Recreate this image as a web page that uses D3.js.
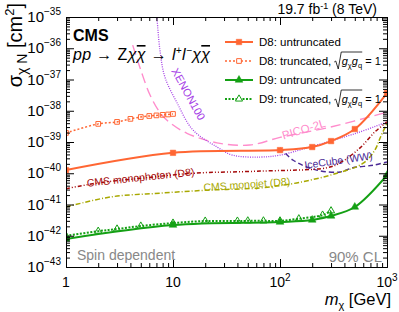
<!DOCTYPE html>
<html>
<head>
<meta charset="utf-8">
<script src="https://cdn.jsdelivr.net/npm/d3@7"></script>
<style>
body { margin: 0; background: #fff; }
text { font-family: "Liberation Sans", Arial, sans-serif; }
</style>
</head>
<body>
<div id="chart"></div>
<script>
// CMS curves (mass in GeV, cross section in cm^2)
var massD8 = [1, 10, 100, 200, 300, 500, 1000];
var sigmaD8 = [1.26e-40, 4.5e-40, 5.5e-40, 6.9e-40, 1.07e-39, 2.6e-39, 3.7e-38];

var massD8trunc = [1, 2, 3, 4, 5, 6, 7, 8, 9, 10];
var sigmaD8trunc = [1.95e-39, 3.8e-39, 4.4e-39, 5.5e-39, 6.3e-39, 6.8e-39, 7.1e-39, 7.4e-39, 7.6e-39, 7.9e-39];

var massD9 = [1, 10, 100, 200, 300, 500, 1000];
var sigmaD9 = [7.9e-43, 2.2e-42, 2.75e-42, 3.2e-42, 4.3e-42, 8.3e-42, 8.7e-41];

var massD9trunc = [1, 2, 3, 5, 10, 20, 40, 50, 70, 100, 150, 250, 300];
var sigmaD9trunc = [1.0e-42, 1.4e-42, 1.65e-42, 2.05e-42, 2.55e-42, 2.95e-42, 2.95e-42, 3.0e-42, 3.0e-42, 3.0e-42, 3.5e-42, 4.6e-42, 6.3e-42];

// other limits
var massXenon = [6.95, 7.1, 7.55, 8.4, 10.9, 15.4, 25.8, 36, 65, 100, 190, 525, 1000];
var sigmaXenon = [1.5e-35, 8e-36, 8.7e-37, 1.2e-37, 1.8e-38, 2.4e-39, 6.9e-40, 3.8e-40, 3.3e-40, 3.8e-40, 6.9e-40, 1.95e-39, 4.4e-39];

var massPico = [4.2, 5.0, 6.1, 7.6, 9.4, 13.5, 25.8, 52, 100, 295, 1000];
var sigmaPico = [1.26e-36, 2e-37, 3.2e-38, 8.5e-39, 4.1e-39, 1.9e-39, 9.4e-40, 8e-40, 1.4e-39, 3e-39, 9e-39];

var massIce = [100, 133, 220, 365, 480, 740, 1000];
var sigmaIce = [6.5e-40, 2.6e-40, 1.26e-40, 1.1e-40, 1.5e-40, 1.8e-40, 2.3e-40];

var massMonophoton = [1, 2, 5.2, 15.4, 65, 275, 360, 560, 770, 1000];
var sigmaMonophoton = [3.2e-41, 4.9e-41, 7e-41, 1.0e-40, 1.17e-40, 1.5e-40, 2.1e-40, 6.5e-40, 2.1e-39, 4.4e-39];

var massMonojet = [1, 2.6, 7.5, 22, 65, 143, 340, 600, 770, 870, 1000];
var sigmaMonojet = [8.3e-42, 1.74e-41, 2.3e-41, 2.9e-41, 3.4e-41, 4.9e-41, 1.0e-40, 2.1e-40, 5.5e-40, 1.45e-39, 3.9e-39];

// tick labels
var xTicks = [1, 10, 100, 1000];
var xTickLabels = [["1", ""], ["10", ""], ["10", "2"], ["10", "3"]];
var yExponents = [-43, -42, -41, -40, -39, -38, -37, -36, -35];

var legendLabels = ["D8: untruncated", "D8: truncated,", "D9: untruncated", "D9: truncated,"];

// Define SVG area and plot frame
var svgWidth = 399;
var svgHeight = 312;
var frame = { left: 66, right: 387, top: 17, bottom: 267 };

var svg = d3.select("#chart")
  .append("svg")
  .attr("width", svgWidth)
  .attr("height", svgHeight);

var xScale = d3.scaleLog().domain([1, 1000]).range([frame.left, frame.right]);
var yScale = d3.scaleLog().domain([1e-43, 1e-35]).range([frame.bottom, frame.top]);

// colours
var cD8 = "#ff6633";
var cD9 = "#14a014";

svg.append("clipPath").attr("id", "clip")
  .append("rect")
  .attr("x", frame.left).attr("y", frame.top)
  .attr("width", frame.right - frame.left)
  .attr("height", frame.bottom - frame.top);

var plotArea = svg.append("g").attr("clip-path", "url(#clip)");

var line = d3.line()
  .x(d => xScale(d[0]))
  .y(d => yScale(d[1]))
  .curve(d3.curveCatmullRom.alpha(0.5));

function drawCurve(mass, sigma, color, width, dash) {
  var pts = mass.map((m, i) => [m, sigma[i]]);
  plotArea.append("path")
    .datum(pts)
    .attr("d", line)
    .attr("fill", "none")
    .attr("stroke", color)
    .attr("stroke-width", width)
    .attr("stroke-dasharray", dash);
}

function drawMarkers(mass, sigma, type, color, filled) {
  var sym = type == "square" ? d3.symbol(d3.symbolSquare, filled ? 30 : 22)
                             : d3.symbol(d3.symbolTriangle, filled ? 26 : 22);
  plotArea.selectAll(null)
    .data(mass.map((m, i) => [m, sigma[i]]))
    .enter()
    .append("path")
    .attr("d", sym)
    .attr("transform", d => `translate(${xScale(d[0])},${yScale(d[1])})`)
    .attr("fill", filled ? color : "none")
    .attr("stroke", color)
    .attr("stroke-width", filled ? 0.5 : 1);
}

// other experiments
drawCurve(massPico, sigmaPico, "#ff8ccc", 1.4, "10,5");
drawCurve(massXenon, sigmaXenon, "#a640e6", 1.3, "1,1.3");
drawCurve(massIce, sigmaIce, "#4b2a96", 1.4, "5,3");
drawCurve(massMonophoton, sigmaMonophoton, "#a50a0a", 1.5, "4,2,1,2,1,2");
drawCurve(massMonojet, sigmaMonojet, "#a8a800", 1.5, "5,2,1,2");

// CMS curves
drawCurve(massD8trunc, sigmaD8trunc, cD8, 1.5, "2,2");
drawMarkers(massD8trunc, sigmaD8trunc, "square", cD8, false);
drawCurve(massD8, sigmaD8, cD8, 2, null);
drawMarkers(massD8, sigmaD8, "square", cD8, true);
drawCurve(massD9trunc, sigmaD9trunc, cD9, 2, "2,1.5");
drawMarkers(massD9trunc, sigmaD9trunc, "triangle", cD9, false);
drawCurve(massD9, sigmaD9, cD9, 2, null);
drawMarkers(massD9, sigmaD9, "triangle", cD9, true);

// curve labels
function curveLabel(x, y, angle, txt, color, size) {
  svg.append("text")
    .attr("transform", `translate(${x},${y}) rotate(${angle})`)
    .attr("text-anchor", "middle")
    .attr("fill", color)
    .style("font-size", size + "px")
    .text(txt);
}
curveLabel(185, 96, 61, "XENON100", "#a640e6", 11);
curveLabel(305, 133, -17, "PICO-2L", "#ff8ccc", 11.5);
curveLabel(339, 164, -8, "IceCube (WW)", "#4b2a96", 10.5);
curveLabel(141, 181, -6, "CMS monophoton (D8)", "#a50a0a", 10.5);
curveLabel(247, 188, -4, "CMS monojet (D8)", "#a8a800", 10.5);

// axes: ticks pointing inward on all four sides
var minorX = [];
[1, 10, 100].forEach(function(d) {
  for (var k = 2; k <= 9; k++) minorX.push(d * k);
});
var majorY = yExponents.map(e => Math.pow(10, e));
var minorY = [];
yExponents.slice(0, -1).forEach(function(e) {
  for (var k = 2; k <= 9; k++) minorY.push(k * Math.pow(10, e));
});

function addAxis(axis, tx, ty) {
  svg.append("g")
    .attr("transform", `translate(${tx},${ty})`)
    .call(axis)
    .call(g => g.selectAll("text").remove())
    .call(g => g.selectAll("line").attr("stroke", "#000"))
    .call(g => g.select(".domain").attr("stroke", "#000"));
}

addAxis(d3.axisBottom(xScale).tickValues(xTicks).tickSizeInner(-8).tickSizeOuter(0), 0, frame.bottom);
addAxis(d3.axisBottom(xScale).tickValues(minorX).tickSizeInner(-4).tickSizeOuter(0), 0, frame.bottom);
addAxis(d3.axisTop(xScale).tickValues(xTicks).tickSizeInner(-8).tickSizeOuter(0), 0, frame.top);
addAxis(d3.axisTop(xScale).tickValues(minorX).tickSizeInner(-4).tickSizeOuter(0), 0, frame.top);
addAxis(d3.axisLeft(yScale).tickValues(majorY).tickSizeInner(-8).tickSizeOuter(0), frame.left, 0);
addAxis(d3.axisLeft(yScale).tickValues(minorY).tickSizeInner(-4).tickSizeOuter(0), frame.left, 0);
addAxis(d3.axisRight(yScale).tickValues(majorY).tickSizeInner(-8).tickSizeOuter(0), frame.right, 0);
addAxis(d3.axisRight(yScale).tickValues(minorY).tickSizeInner(-4).tickSizeOuter(0), frame.right, 0);

// x tick labels
xTicks.forEach(function(v, i) {
  var t = svg.append("text")
    .attr("x", xScale(v))
    .attr("y", 287)
    .attr("text-anchor", "middle")
    .style("font-size", "14px");
  t.append("tspan").text(xTickLabels[i][0]);
  if (xTickLabels[i][1]) {
    t.append("tspan").attr("dy", -6).style("font-size", "10px").text(xTickLabels[i][1]);
  }
});

// y tick labels
yExponents.forEach(function(e) {
  var t = svg.append("text")
    .attr("x", 61)
    .attr("y", yScale(Math.pow(10, e)) + 5)
    .attr("text-anchor", "end")
    .style("font-size", "15px");
  t.append("tspan").text("10");
  t.append("tspan").attr("dy", -7).style("font-size", "10px").text("\u2212" + Math.abs(e));
});

// axis titles
var xTitle = svg.append("text")
  .attr("x", 391).attr("y", 305)
  .attr("text-anchor", "end")
  .style("font-size", "16.5px");
xTitle.append("tspan").style("font-style", "italic").text("m");
xTitle.append("tspan").attr("dy", 4).style("font-size", "11px").text("\u03c7");
xTitle.append("tspan").attr("dy", -4).text(" [GeV]");

var yTitle = svg.append("text")
  .attr("transform", "translate(22,3) rotate(-90)")
  .attr("text-anchor", "end")
  .style("font-size", "20px");
yTitle.append("tspan").text("\u03c3");
yTitle.append("tspan").attr("dy", 5).style("font-size", "14px").text("\u03c7 N");
yTitle.append("tspan").attr("dy", -5).text(" [cm");
yTitle.append("tspan").attr("dy", -8).style("font-size", "13px").text("2");
yTitle.append("tspan").attr("dy", 8).text("]");

// lumi label
var lumi = svg.append("text")
  .attr("x", 377).attr("y", 14)
  .attr("text-anchor", "end")
  .style("font-size", "14px");
lumi.append("tspan").text("19.7 fb");
lumi.append("tspan").attr("dy", -5).style("font-size", "9px").text("-1");
lumi.append("tspan").attr("dy", 5).text(" (8 TeV)");

// CMS and process labels
svg.append("text")
  .attr("x", 73).attr("y", 41)
  .style("font-size", "16px")
  .style("font-weight", "bold")
  .text("CMS");

var proc = svg.append("text")
  .attr("x", 73).attr("y", 60)
  .attr("textLength", 137)
  .attr("lengthAdjust", "spacing")
  .style("font-size", "16px")
  .style("font-style", "italic");
proc.append("tspan").text("pp \u2192 ");
proc.append("tspan").style("font-style", "normal").text("Z");
proc.append("tspan").text("\u03c7");
proc.append("tspan").style("text-decoration", "overline").text("\u03c7");
proc.append("tspan").text(" \u2192 l");
proc.append("tspan").attr("dy", -6).style("font-size", "10px").text("+");
proc.append("tspan").attr("dy", 6).text("l");
proc.append("tspan").attr("dy", -6).style("font-size", "10px").text("\u2212");
proc.append("tspan").attr("dy", 6).text("\u03c7");
proc.append("tspan").style("text-decoration", "overline").text("\u03c7");

svg.append("text")
  .attr("x", 77).attr("y", 260)
  .attr("fill", "#888")
  .style("font-size", "14px")
  .text("Spin dependent");

svg.append("text")
  .attr("x", 382).attr("y", 262)
  .attr("text-anchor", "end")
  .attr("fill", "#888")
  .style("font-size", "15px")
  .text("90% CL");

// legend
var legendY = [42, 61, 80, 99];
var legendStyle = [
  { color: cD8, dash: null, type: "square", filled: true, width: 2 },
  { color: cD8, dash: "2,2", type: "square", filled: false, width: 1.5 },
  { color: cD9, dash: null, type: "triangle", filled: true, width: 2 },
  { color: cD9, dash: "2,1.5", type: "triangle", filled: false, width: 2 }
];

legendLabels.forEach(function(lbl, i) {
  var s = legendStyle[i];
  var y = legendY[i];
  svg.append("line")
    .attr("x1", 225).attr("x2", 253)
    .attr("y1", y).attr("y2", y)
    .attr("stroke", s.color)
    .attr("stroke-width", s.width)
    .attr("stroke-dasharray", s.dash);
  var sym = s.type == "square" ? d3.symbol(d3.symbolSquare, s.filled ? 30 : 22)
                               : d3.symbol(d3.symbolTriangle, s.filled ? 26 : 22);
  svg.append("path")
    .attr("d", sym)
    .attr("transform", `translate(239,${y})`)
    .attr("fill", s.filled ? s.color : "#fff")
    .attr("stroke", s.color)
    .attr("stroke-width", s.filled ? 0.5 : 1);
  var t = svg.append("text")
    .attr("x", 259).attr("y", y + 4)
    .style("font-size", "11.5px")
    .text(lbl);
  if (i % 2 == 1) {
    // sqrt(g_chi g_q) = 1
    var w = t.node().getComputedTextLength();
    var x0 = 259 + w + 3;
    svg.append("path")
      .attr("d", `M${x0},${y + 1} l1.5,-1 l2.5,8 l3,-17 h21`)
      .attr("fill", "none")
      .attr("stroke", "#000")
      .attr("stroke-width", 0.8);
    var g = svg.append("text")
      .attr("x", x0 + 7.5).attr("y", y + 4)
      .style("font-size", "11px");
    g.append("tspan").style("font-style", "italic").text("g");
    g.append("tspan").attr("dy", 3).style("font-size", "7.5px").text("\u03c7");
    g.append("tspan").attr("dy", -3).style("font-style", "italic").text("g");
    g.append("tspan").attr("dy", 3).style("font-size", "7.5px").text("q");
    g.append("tspan").attr("dy", -3).text(" = 1");
  }
});
</script>
</body>
</html>
